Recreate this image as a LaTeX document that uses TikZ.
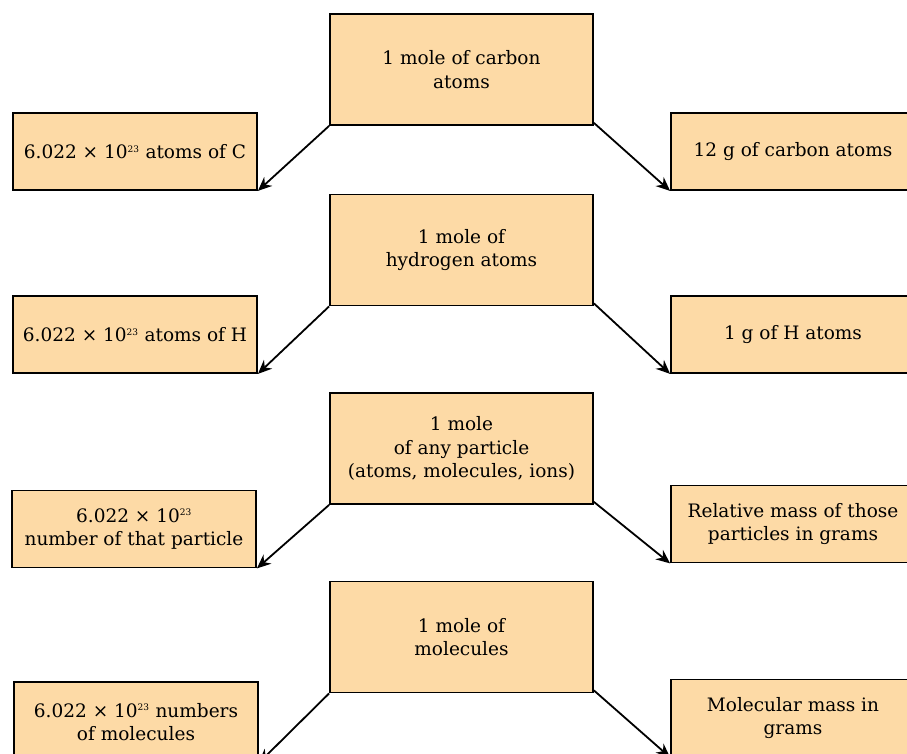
\documentclass[tikz,border=0pt]{standalone}
\usepackage{fontspec}
\setmainfont{DejaVu Serif}
\usetikzlibrary{arrows.meta, positioning}
\definecolor{peach}{RGB}{253,218,166}
\newcommand{\expo}[1]{\textsuperscript{\fontsize{9}{9}\selectfont #1}}
\tikzset{
    x=1pt, y=-1pt, % one unit is one pixel of the reference, y goes down
    every box/.style={draw, line width=1.8pt, fill=peach, align=center, font=\fontsize{18.5}{23.5}\selectfont, inner sep=0pt}, % the look of every box
    mid/.style={every box, minimum width=263pt, minimum height=111pt}, % boxes in the middle
    side/.style={every box, minimum width=244pt, minimum height=77pt}, % boxes left and right
    link/.style={-{Stealth[length=14pt, width=12pt]}, line width=1.8pt} % arrows
}
\begin{document}
\begin{tikzpicture}
		\useasboundingbox (0,0) rectangle (907,754);
		% Middle
		\node[mid](C1) at (461.5,69.5) {1 mole of carbon\\atoms};
		\node[mid](C2) at (461.5,250) {1 mole of\\hydrogen atoms};
		\node[mid](C3) at (461.5,448.5) {1 mole\\of any particle\\(atoms, molecules, ions)};
		\node[mid](C4) at (461.5,637) {1 mole of\\molecules};

		% Left
		\node[side](L1) at (135,151.5) {6.022 × 10\expo{23} atoms of C};
		\node[side](L2) at (135,334.5) {6.022 × 10\expo{23} atoms of H};
		\node[side](L3) at (134,529) {6.022 × 10\expo{23}\\number of that particle};
		\node[side, minimum height=80pt](L4) at (136,722) {6.022 × 10\expo{23} numbers\\of molecules};

		% Right
		\node[side](R1) at (793,151.5) {12 g of carbon atoms};
		\node[side](R2) at (793,334.5) {1 g of H atoms};
		\node[side](R3) at (793,524) {Relative mass of those\\particles in grams};
		\node[side](R4) at (793,718) {Molecular mass in\\grams};

		% Arrows
		\foreach \i in {1,...,4}{
			\draw[link] (C\i.south west) -- (L\i.south east);
			\draw[link] ([yshift=3pt]C\i.south east) -- (R\i.south west);
		}
	\end{tikzpicture}
\end{document}
